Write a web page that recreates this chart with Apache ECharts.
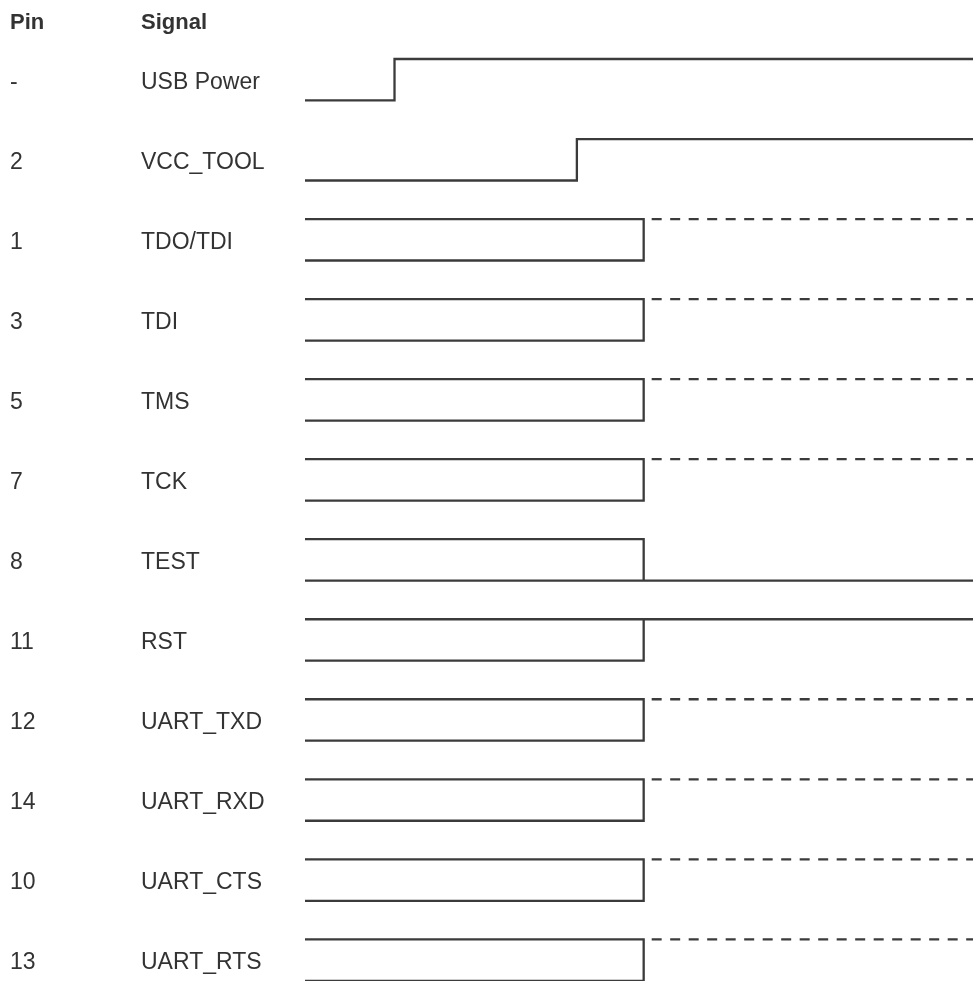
<!DOCTYPE html>
<html>
<head>
<meta charset="utf-8">
<script src="https://cdn.jsdelivr.net/npm/echarts@6/dist/echarts.min.js"></script>
<style>
  html, body { margin: 0; padding: 0; background: #fff; }
  #main { width: 973px; height: 981px; }
</style>
</head>
<body>
<div id="main"></div>
<script>
// pin numbers and signal names, top to bottom
const pins = ['-', '2', '1', '3', '5', '7', '8', '11', '12', '14', '10', '13'];
const signals = ['USB Power', 'VCC_TOOL', 'TDO/TDI', 'TDI', 'TMS', 'TCK', 'TEST', 'RST',
  'UART_TXD', 'UART_RXD', 'UART_CTS', 'UART_RTS'];
// time of the edge on each line (0 .. 100)
const edgeTimes = [13.4, 40.7, 50.7, 50.7, 50.7, 50.7, 50.7, 50.7, 50.7, 50.7, 50.7, 50.7];
// rise: low then high; bus: both levels then high (dashed); fall: both then low; hold: both then high
const kinds = ['rise', 'rise', 'bus', 'bus', 'bus', 'bus', 'fall', 'hold', 'bus', 'bus', 'bus', 'bus'];

const tEnd = 100;
const halfSwing = 0.259;
const lineColor = '#3b3b3b';
const font = 'Liberation Sans, Arial, Helvetica, sans-serif';

const chart = echarts.init(document.getElementById('main'), null, { renderer: 'canvas' });

function waveSeries(i) {
  const t = edgeTimes[i];
  const hi = -i + halfSwing;
  const lo = -i - halfSwing;
  let solid = [];
  let dashed = null;
  if (kinds[i] === 'rise') {
    solid = [[0, lo], [t, lo], [t, hi], [tEnd, hi]];
  } else if (kinds[i] === 'bus') {
    solid = [[0, hi], [t, hi], [t, lo], [0, lo]];
    dashed = [[t, hi], [tEnd, hi]];
  } else if (kinds[i] === 'fall') {
    solid = [[0, hi], [t, hi], [t, lo], [0, lo], [tEnd, lo]];
  } else {
    solid = [[0, lo], [t, lo], [t, hi], [0, hi], [tEnd, hi]];
  }
  const base = {
    type: 'line',
    symbol: 'none',
    silent: true,
    animation: false,
    clip: false
  };
  const out = [Object.assign({}, base, {
    name: signals[i],
    data: solid,
    lineStyle: { color: lineColor, width: 2.3, join: 'miter', cap: 'butt' }
  })];
  if (dashed) {
    out.push(Object.assign({}, base, {
      name: signals[i] + ' (after)',
      data: dashed,
      lineStyle: { color: lineColor, width: 2.3, type: [10, 8.5], dashOffset: -8, cap: 'butt' }
    }));
  }
  return out;
}

let series = [];
for (let i = 0; i < signals.length; i++) {
  series = series.concat(waveSeries(i));
}

function rowLabel(list) {
  return function (v) {
    const i = Math.round(-v);
    if (Math.abs(-v - i) > 1e-6 || i < 0 || i >= list.length) return '';
    return '{t|' + list[i] + '}';
  };
}

function labelAxis(list, margin) {
  return {
    type: 'value',
    min: -11.25,
    max: 0.75,
    interval: 0.25,
    position: 'left',
    axisLine: { show: false },
    axisTick: { show: false },
    splitLine: { show: false },
    axisLabel: {
      show: true,
      align: 'left',
      margin: margin,
      color: '#333',
      fontSize: 23,
      fontFamily: font,
      formatter: rowLabel(list),
      rich: {
        t: { color: '#333', fontSize: 23, fontFamily: font, padding: [6, 0, 0, 0] }
      }
    }
  };
}

const option = {
  backgroundColor: '#fff',
  title: [
    { text: 'Pin', left: 10, top: 12, padding: 0,
      textStyle: { fontSize: 22, fontWeight: 'bold', color: '#333', fontFamily: font } },
    { text: 'Signal', left: 141, top: 12, padding: 0,
      textStyle: { fontSize: 22, fontWeight: 'bold', color: '#333', fontFamily: font } }
  ],
  grid: { left: 305, right: 0, top: 19.7, height: 960.4, containLabel: false },
  xAxis: {
    type: 'value',
    min: 0,
    max: tEnd,
    show: false
  },
  yAxis: [labelAxis(pins, 295), labelAxis(signals, 164)],
  series: series
};

chart.setOption(option);
</script>
</body>
</html>
